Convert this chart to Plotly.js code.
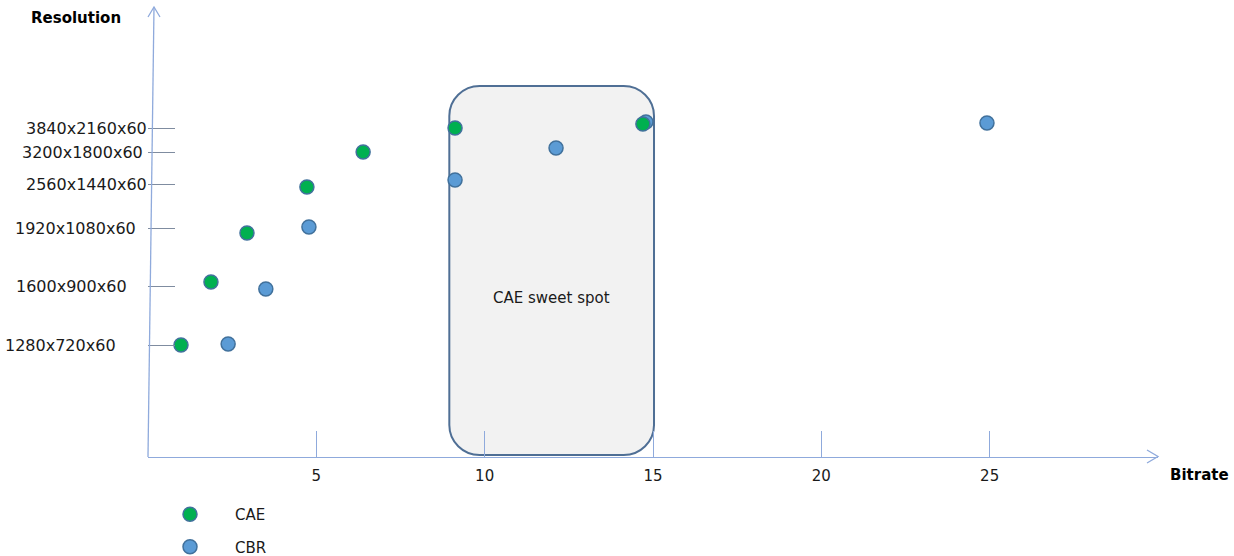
<!DOCTYPE html>
<html>
<head>
<meta charset="utf-8">
<script src="https://cdn.plot.ly/plotly-3.0.1.min.js"></script>
<style>html,body{margin:0;padding:0;background:#fff;}#chart{width:1234px;height:556px;}</style>
</head>
<body>
<div id="chart"></div>
<script>
// ---- data ----
const resolutionLabels = ['1280x720x60', '1600x900x60', '1920x1080x60', '2560x1440x60', '3200x1800x60', '3840x2160x60'];
const resolutionLevels = [11.2, 17.1, 22.9, 27.3, 30.5, 32.9];
const bitrateTicks = [5, 10, 15, 20, 25];

const caeBitrate = [0.98, 1.87, 2.94, 4.72, 6.39, 9.12, 14.70];
const caeLevel   = [11.2, 17.5, 22.4, 27.0, 30.5, 32.9, 33.3];

const cbrBitrate = [2.38, 3.50, 4.78, 9.12, 12.12, 14.79, 24.92];
const cbrLevel   = [11.3, 16.8, 23.0, 27.7, 30.9, 33.5, 33.4];

const sweetSpot = {x0: 8.95, x1: 15.03, y0: 0.2, y1: 37.1};

// ---- style ----
const labelShift = [-30, -19, -10, 1, -3, 1]; // px offsets of the hand-placed y labels
const M = {l: 148, r: 76, t: 8, b: 99, autoexpand: false};
const W = 1234, H = 556;
const PW = W - M.l - M.r, PH = H - M.t - M.b;
const px = x => (x - M.l) / PW;
const py = y => (H - M.b - y) / PH;
const axisColor = '#8FAADC';
const textFont = {family: 'DejaVu Sans, Verdana, sans-serif', size: 15, color: '#1a1a1a'};
const boldFont = {family: 'DejaVu Sans, Verdana, sans-serif', size: 15, color: '#000', weight: 700};

function roundRect(b, rx, ry) {
  const k = 0.5523;
  const {x0, x1, y0, y1} = b;
  return `M${x0 + rx},${y1} L${x1 - rx},${y1} ` +
    `C${x1 - rx * (1 - k)},${y1} ${x1},${y1 - ry * (1 - k)} ${x1},${y1 - ry} ` +
    `L${x1},${y0 + ry} C${x1},${y0 + ry * (1 - k)} ${x1 - rx * (1 - k)},${y0} ${x1 - rx},${y0} ` +
    `L${x0 + rx},${y0} C${x0 + rx * (1 - k)},${y0} ${x0},${y0 + ry * (1 - k)} ${x0},${y0 + ry} ` +
    `L${x0},${y1 - ry} C${x0},${y1 - ry * (1 - k)} ${x0 + rx * (1 - k)},${y1} ${x0 + rx},${y1} Z`;
}

const traces = [
  {
    type: 'scatter', mode: 'markers', name: 'CBR',
    x: cbrBitrate, y: cbrLevel,
    legendgroup: 'b', legendrank: 2,
    marker: {size: 14, color: '#5B9BD5', line: {color: '#41719C', width: 1.5}},
    cliponaxis: false, hoverinfo: 'x+y'
  },
  {
    type: 'scatter', mode: 'markers', name: 'CAE',
    x: caeBitrate, y: caeLevel,
    legendgroup: 'a', legendrank: 1,
    marker: {size: 14, color: '#00B050', line: {color: '#41719C', width: 1.5}},
    cliponaxis: false, hoverinfo: 'x+y'
  }
];

const annotations = resolutionLabels.map((t, i) => ({
  text: t, xref: 'x', yref: 'y', x: 0, y: resolutionLevels[i],
  xanchor: 'right', yanchor: 'middle', xshift: labelShift[i],
  showarrow: false, font: Object.assign({}, textFont, {size: 16})
}));
annotations.push(
  {text: 'Resolution', xref: 'paper', yref: 'paper', x: px(76), y: py(18),
   xanchor: 'center', yanchor: 'middle', showarrow: false, font: boldFont},
  {text: 'Bitrate', xref: 'paper', yref: 'paper', x: px(1199), y: py(475),
   xanchor: 'center', yanchor: 'middle', showarrow: false, font: boldFont},
  {text: 'CAE sweet spot', xref: 'x', yref: 'y',
   x: (sweetSpot.x0 + sweetSpot.x1) / 2, y: 15.9,
   xanchor: 'center', yanchor: 'middle', showarrow: false, font: textFont}
);

const shapes = [
  {type: 'path', xref: 'x', yref: 'y', layer: 'below',
   path: roundRect(sweetSpot, 0.9, 3.0),
   fillcolor: '#F2F2F2', line: {color: '#4F6F95', width: 2}},
  {type: 'line', xref: 'paper', yref: 'paper', x0: px(148), y0: py(457), x1: px(154), y1: py(7),
   line: {color: axisColor, width: 1.3}},
  {type: 'path', xref: 'paper', yref: 'paper',
   path: `M${px(148)},${py(17)} L${px(154)},${py(7)} L${px(160)},${py(17)}`,
   line: {color: axisColor, width: 1.3}},
  {type: 'path', xref: 'paper', yref: 'paper',
   path: `M${px(1147)},${py(450)} L${px(1158)},${py(456.5)} L${px(1147)},${py(463)}`,
   line: {color: axisColor, width: 1.3}}
];

const layout = {
  width: W, height: H,
  margin: M,
  paper_bgcolor: '#fff', plot_bgcolor: 'rgba(0,0,0,0)',
  font: textFont,
  xaxis: {
    range: [0, 30], showgrid: false, zeroline: false,
    showline: true, linecolor: axisColor, linewidth: 1.3,
    ticks: 'inside', ticklen: 26, tickcolor: axisColor, tickwidth: 1,
    tickvals: bitrateTicks, ticktext: bitrateTicks.map(String),
    ticklabelstandoff: 5, tickfont: textFont, fixedrange: true, automargin: false
  },
  yaxis: {
    range: [0, 44.9], showgrid: false, zeroline: false, showline: false,
    ticks: 'inside', ticklen: 27, tickcolor: '#7F8CA0', tickwidth: 1,
    tickvals: resolutionLevels, showticklabels: false, fixedrange: true, automargin: false
  },
  showlegend: true,
  legend: {
    xref: 'container', yref: 'container',
    x: 145 / W, y: 1 - 498 / H, xanchor: 'left', yanchor: 'top',
    traceorder: 'grouped', tracegroupgap: 10, itemwidth: 80,
    font: textFont, bgcolor: 'rgba(0,0,0,0)'
  },
  shapes: shapes,
  annotations: annotations
};

Plotly.newPlot('chart', traces, layout, {displayModeBar: false, staticPlot: true});
</script>
</body>
</html>
